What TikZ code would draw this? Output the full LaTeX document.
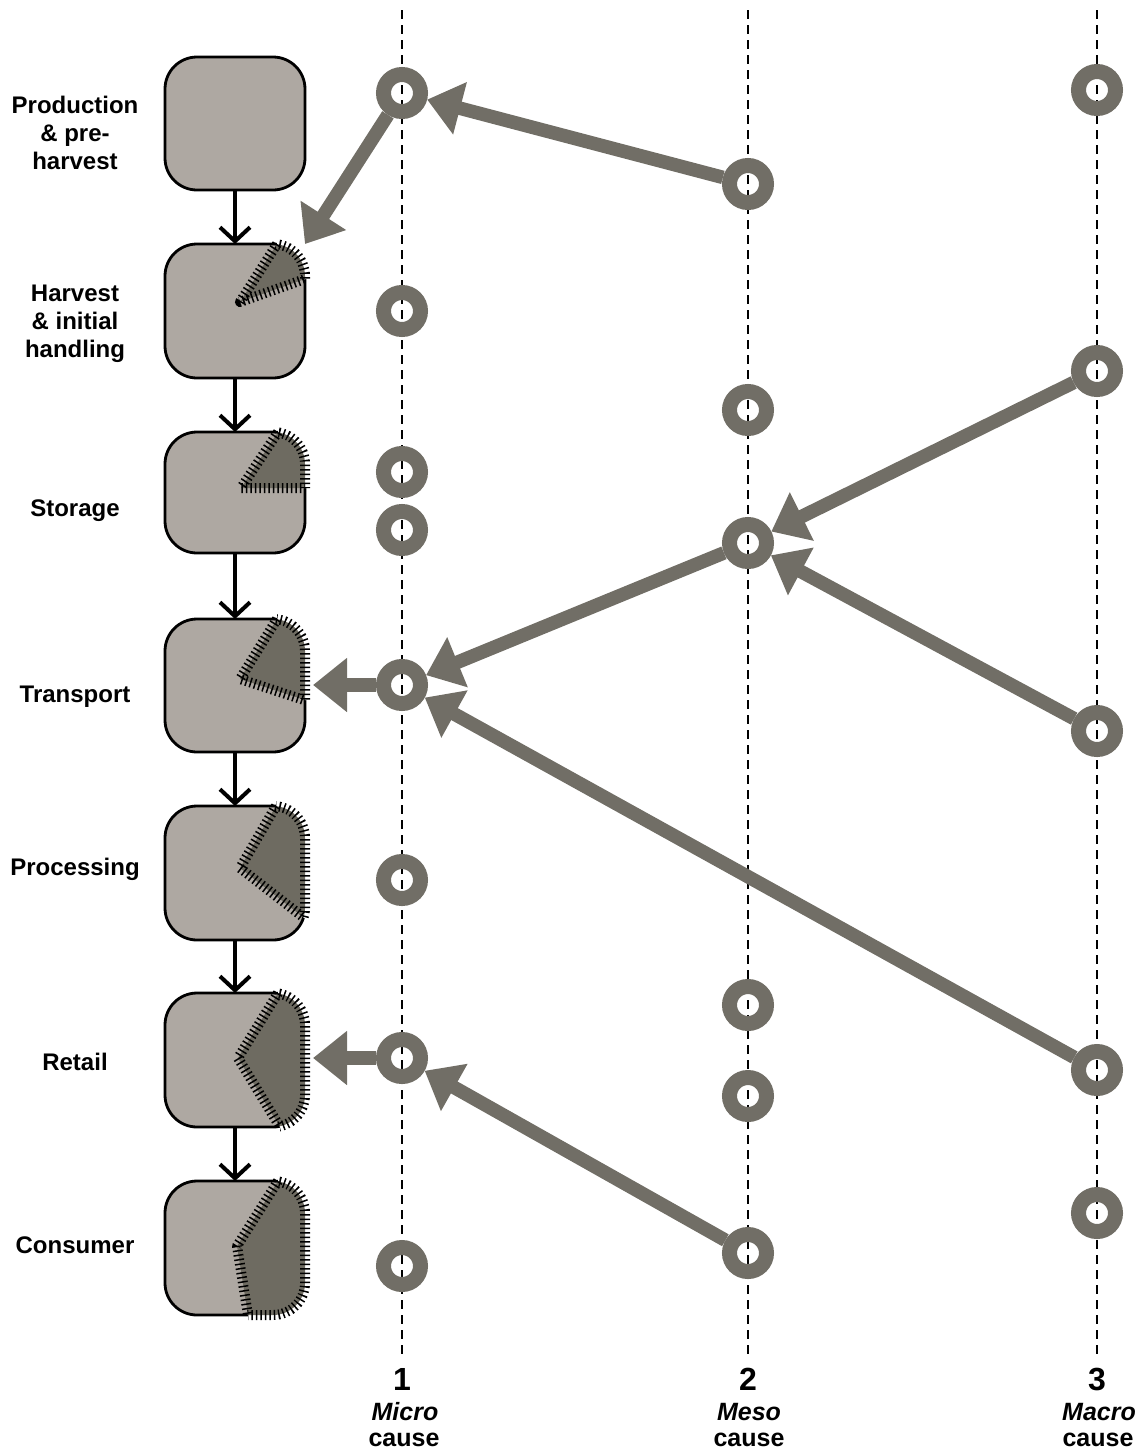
\documentclass[tikz,border=0pt]{standalone}
\usepackage{fontspec}
\setmainfont{Liberation Sans}
\usetikzlibrary{arrows.meta,calc}
\definecolor{ringc}{RGB}{113,110,102}
\definecolor{boxc}{RGB}{174,168,162}
\definecolor{wedgec}{RGB}{110,107,97}
\newcommand\lossarea[3]{%
 \begin{scope}
  \clip #2 -- cycle;
  \draw[white, line width=2.5pt, rounded corners=16pt] (#1.south west) rectangle (#1.north east);
  \clip[rounded corners=16pt] (#1.south west) rectangle (#1.north east);
  \fill[wedgec] #2 -- cycle;
 \end{scope}
 \begin{scope}
  \clip #2 -- cycle;
  \draw[ticks, rounded corners=16pt] (#1.south west) rectangle (#1.north east);
 \end{scope}
 \draw[ticks, line join=round] #3;
}
\begin{document}
\begin{tikzpicture}[x=0.5pt,y=-0.5pt,
 flowbox/.style={rectangle, rounded corners=16pt, draw=black, line width=1.4pt, fill=boxc, minimum width=70pt, outer sep=0pt, inner sep=0pt},
 ring/.style={circle, draw=ringc, line width=7.5pt, minimum size=18.5pt, inner sep=0pt},
 cause/.style={draw=ringc, line width=6.8pt, -{Triangle[length=17pt,width=26pt]}},
 flow/.style={draw=black, line width=2pt, -{Straight Barb[length=7pt,width=15pt]}},
 guide/.style={draw=black, line width=1.2pt, dash pattern=on 4.5pt off 3pt},
 ticks/.style={draw=black, line width=5pt, dash pattern=on 0.75pt off 1.5pt},
 lbl/.style={font=\bfseries\fontsize{12}{14}\selectfont, align=center, inner sep=0pt},
 numlbl/.style={font=\bfseries\fontsize{16}{18}\selectfont, inner sep=0pt},
 levlbl/.style={font=\bfseries\itshape\fontsize{12.5}{15}\selectfont, inner sep=0pt},
 cslbl/.style={font=\bfseries\fontsize{12.5}{15}\selectfont, inner sep=0pt},
]
\useasboundingbox (0,0) rectangle (1144,1452);

% guide lines
\coordinate (g1t) at (402,10); \coordinate (g1b) at (402,1360);
\coordinate (g2t) at (748,10); \coordinate (g2b) at (748,1360);
\coordinate (g3t) at (1097,10); \coordinate (g3b) at (1097,1360);
\draw[guide] (g1t) -- (g1b);
\draw[guide] (g2t) -- (g2b);
\draw[guide] (g3t) -- (g3b);

% boxes
\node[flowbox, minimum height=66.5pt] (b1) at (235,123.5) {};
\node[flowbox, minimum height=67pt] (b2) at (235,311) {};
\node[flowbox, minimum height=60.5pt] (b3) at (235,492.5) {};
\node[flowbox, minimum height=66.5pt] (b4) at (235,685.5) {};
\node[flowbox, minimum height=67pt] (b5) at (235,873) {};
\node[flowbox, minimum height=67pt] (b6) at (235,1060) {};
\node[flowbox, minimum height=67pt] (b7) at (235,1248) {};

% loss areas
\lossarea{b2}{(277,244) -- (277,200) -- (350,200) -- (350,279) -- (305,279) -- (240,302)}{(277,244) -- (240,302) -- (305,279)}
\lossarea{b3}{(278,432) -- (278,390) -- (350,390) -- (350,488) -- (305,488) -- (241,488)}{(278,432) -- (241,488) -- (305,488)}
\lossarea{b4}{(277,619) -- (277,580) -- (350,580) -- (350,700) -- (305,700) -- (240,679)}{(277,619) -- (240,679) -- (304,700)}
\lossarea{b5}{(276,806) -- (276,770) -- (350,770) -- (350,938) -- (330,938) -- (240,868)}{(276,806) -- (240,868) -- (303,917)}
\lossarea{b6}{(278,993) -- (278,950) -- (350,950) -- (350,1170) -- (280,1170) -- (280,1127) -- (238,1058)}{(278,993) -- (238,1058) -- (280,1127)}
\lossarea{b7}{(278,1181) -- (278,1140) -- (350,1140) -- (350,1360) -- (248,1360) -- (248,1315) -- (237,1246)}{(278,1181) -- (237,1246) -- (248,1315)}

% flow arrows
\draw[flow] (b1) -- (b2);
\draw[flow] (b2) -- (b3);
\draw[flow] (b3) -- (b4);
\draw[flow] (b4) -- (b5);
\draw[flow] (b5) -- (b6);
\draw[flow] (b6) -- (b7);

% stage labels
\node[lbl] (t1) at (75,133) {Production\\\& pre-\\harvest};
\node[lbl] (t2) at (75,324) {Harvest\\\& initial\\handling};
\node[lbl] (t3) at (75,511) {Storage};
\node[lbl] (t4) at (75,697) {Transport};
\node[lbl] (t5) at (75,869) {Processing};
\node[lbl] (t6) at (75,1062) {Retail};
\node[lbl] (t7) at (75,1245) {Consumer};

% rings
\foreach \n/\y in {a/93,b/311,c/472,d/530,e/685,f/880,g/1058,h/1266}
  \node[ring] (r1\n) at (402,\y) {};
\foreach \n/\y in {a/184,b/410,c/543,d/1005,e/1096,f/1253}
  \node[ring] (r2\n) at (748,\y) {};
\foreach \n/\y in {a/90,b/371,c/731,d/1070,e/1213}
  \node[ring] (r3\n) at (1097,\y) {};

% cause arrows
\draw[cause] (r2a) -- (r1a);
\draw[cause] (r1a) -- (b2.north east);
\draw[cause] (r3b) -- (r2c);
\draw[cause] (r3c) -- (r2c);
\draw[cause] (r2c) -- (r1e);
\draw[cause, shorten >=4pt] (r1e) -- (b4.east |- r1e);
\draw[cause] (r3d) -- (r1e);
\draw[cause, shorten >=4pt] (r1g) -- (b6.east |- r1g);
\draw[cause] (r2f) -- (r1g);

% level labels
\node[numlbl] (n1) at (402,1379) {1};
\node[levlbl] (m1) at (405,1412) {Micro};
\node[cslbl] (c1) at (404,1440) {cause};
\node[numlbl] (n2) at (748,1379) {2};
\node[levlbl] (m2) at (749,1412) {Meso};
\node[cslbl] (c2) at (749,1440) {cause};
\node[numlbl] (n3) at (1097,1379) {3};
\node[levlbl] (m3) at (1099,1412) {Macro};
\node[cslbl] (c3) at (1098,1440) {cause};
\end{tikzpicture}
\end{document}
